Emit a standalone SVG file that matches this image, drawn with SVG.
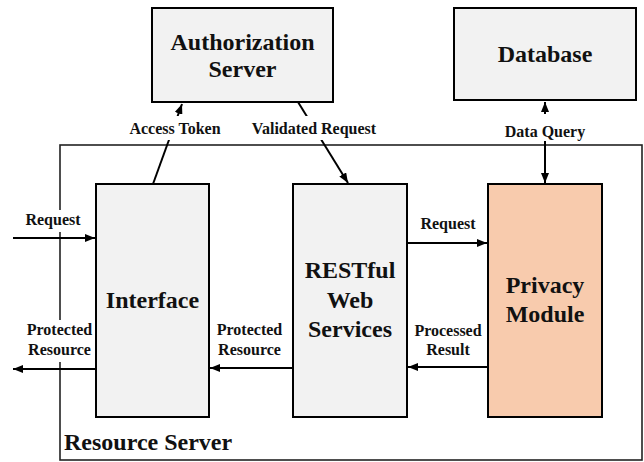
<svg xmlns="http://www.w3.org/2000/svg" width="644" height="462" viewBox="0 0 644 462">
  <defs>
    <marker id="arrow" viewBox="0 0 10 8" refX="10" refY="4" markerWidth="10" markerHeight="8" markerUnits="userSpaceOnUse" orient="auto-start-reverse">
      <path d="M0,0 L10,4 L0,8 Z" fill="#000"/>
    </marker>
  </defs>
  <style>
    .box { fill: #f2f2f2; stroke: #000; stroke-width: 2; }
    .privacy { fill: #f8cbad; stroke: #000; stroke-width: 2; }
    text { font-family: "Liberation Serif", "Times New Roman", serif; font-weight: bold; fill: #111; text-anchor: middle; }
    .big { font-size: 24px; }
    .small { font-size: 16px; }
    .conn { stroke: #000; stroke-width: 2; fill: none; }
    .bg { fill: #fff; }
  </style>

  <!-- Resource server boundary -->
  <g id="resource-server">
    <rect x="60" y="145" width="582" height="315" fill="none" stroke="#222" stroke-width="1.6"/>
  </g>

  <!-- Connectors -->
  <g id="connectors">
    <line class="conn" x1="153" y1="184" x2="182" y2="104" marker-end="url(#arrow)"/>
    <line class="conn" x1="298" y1="102" x2="348" y2="183" marker-end="url(#arrow)"/>
    <line class="conn" x1="545" y1="102" x2="545" y2="183" marker-start="url(#arrow)" marker-end="url(#arrow)"/>
    <line class="conn" x1="13" y1="238" x2="95" y2="238" marker-end="url(#arrow)"/>
    <line class="conn" x1="96" y1="369" x2="13" y2="369" marker-end="url(#arrow)"/>
    <line class="conn" x1="293" y1="368" x2="210" y2="368" marker-end="url(#arrow)"/>
    <line class="conn" x1="407" y1="243" x2="487" y2="243" marker-end="url(#arrow)"/>
    <line class="conn" x1="488" y1="367" x2="408" y2="367" marker-end="url(#arrow)"/>

    <!-- connector labels on white backing -->
    <rect class="bg" x="125" y="116" width="100" height="24"/>
    <text class="small" x="175" y="134">Access Token</text>
    <rect class="bg" x="249" y="116" width="131" height="24"/>
    <text class="small" x="314" y="134">Validated Request</text>
    <rect class="bg" x="503" y="114" width="84" height="27"/>
    <text class="small" x="545" y="137">Data Query</text>
    <rect class="bg" x="24" y="210" width="58" height="22"/>
    <text class="small" x="53" y="225">Request</text>
    <text class="small" x="448" y="229">Request</text>
    <rect class="bg" x="25" y="320" width="69" height="42"/>
    <text class="small" x="59.5" y="335">Protected</text>
    <text class="small" x="59.5" y="355">Resource</text>
    <text class="small" x="249.5" y="335">Protected</text>
    <text class="small" x="249.5" y="355">Resource</text>
    <text class="small" x="448" y="336">Processed</text>
    <text class="small" x="448" y="355">Result</text>
  </g>

  <g id="authorization-server">
    <rect class="box" x="152" y="8" width="181" height="94"/>
    <text class="big" x="242.5" y="50">Authorization</text>
    <text class="big" x="242.5" y="77">Server</text>
  </g>

  <g id="database">
    <rect class="box" x="454" y="8" width="182" height="92"/>
    <text class="big" x="545" y="62">Database</text>
  </g>

  <g id="interface">
    <rect class="box" x="96" y="184" width="113" height="233"/>
    <text class="big" x="152.5" y="308">Interface</text>
  </g>

  <g id="restful-web-services">
    <rect class="box" x="293" y="184" width="114" height="233"/>
    <text class="big" x="350" y="278">RESTful</text>
    <text class="big" x="350" y="308">Web</text>
    <text class="big" x="350" y="337">Services</text>
  </g>

  <g id="privacy-module">
    <rect class="privacy" x="488" y="184" width="114" height="233"/>
    <text class="big" x="545" y="293">Privacy</text>
    <text class="big" x="545" y="322">Module</text>
  </g>

  <text class="big" x="64" y="450" style="text-anchor:start">Resource Server</text>
</svg>
